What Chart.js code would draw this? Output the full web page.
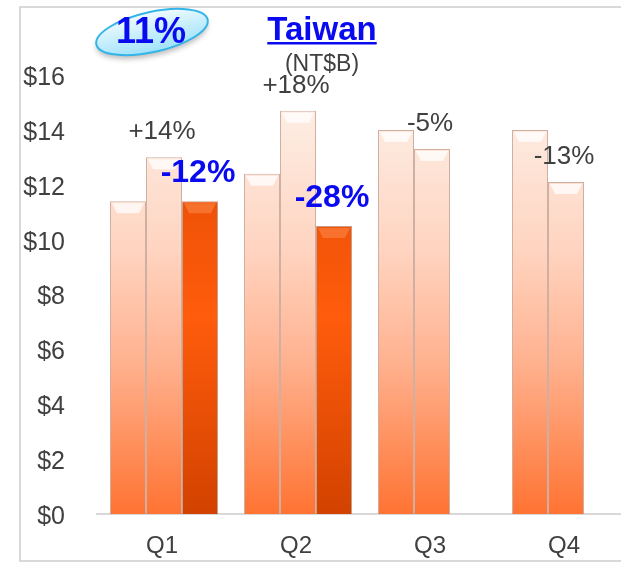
<!DOCTYPE html>
<html>
<head>
<meta charset="utf-8">
<script src="https://cdn.jsdelivr.net/npm/chart.js@4/dist/chart.umd.min.js"></script>
<style>
  html, body { margin: 0; padding: 0; background: #ffffff; overflow: hidden; }
  #wrap { width: 640px; height: 563px; }
</style>
</head>
<body>
<div id="wrap"><canvas id="taiwanChart" width="640" height="563"></canvas></div>
<script>
// ---- data ----
const quarters = ['Q1', 'Q2', 'Q3', 'Q4'];
const salesFirst = [11.4, 12.4, 14.0, 14.0];
const salesSecond = [13.0, 14.7, 13.3, 12.1];
const salesThird = [11.4, 10.5, null, null];
const changeSecond = ['+14%', '+18%', '-5%', '-13%'];
const changeThird = ['-12%', '-28%', '', ''];
const yTickValues = [0, 2, 4, 6, 8, 10, 12, 14, 16];
const badgeText = '11%';
const titleText = 'Taiwan';
const unitText = '(NT$B)';

const FONT = '"Liberation Sans", Arial, sans-serif';
const GRAY_TEXT = '#404040';
const BLUE = '#0a0af0';

// vertical gradients across the plot area
function lightFill(ctx) {
  const area = ctx.chart.chartArea;
  if (!area) return '#ffb28e';
  const g = ctx.chart.ctx.createLinearGradient(0, area.bottom, 0, area.top);
  g.addColorStop(0, '#ff7332');
  g.addColorStop(0.35, '#ffb290');
  g.addColorStop(0.6, '#ffd4c0');
  g.addColorStop(0.8, '#fde4d7');
  g.addColorStop(1, '#fff3ec');
  return g;
}

function darkFill(ctx) {
  const area = ctx.chart.chartArea;
  if (!area) return '#ff5c0c';
  const g = ctx.chart.ctx.createLinearGradient(0, area.bottom, 0, area.top);
  g.addColorStop(0, '#d24200');
  g.addColorStop(0.45, '#ff5c0c');
  g.addColorStop(0.75, '#ec5006');
  g.addColorStop(1, '#e04a00');
  return g;
}

const barEdge = 'rgba(160, 95, 70, 0.5)';
const barBorder = { top: 1, left: 1, right: 1, bottom: 0 };

// frame, title, unit and the 11% badge
const decorPlugin = {
  id: 'decor',
  beforeDraw(chart) {
    const ctx = chart.ctx;
    ctx.save();
    ctx.strokeStyle = '#d9d9d9';
    ctx.lineWidth = 2;
    ctx.strokeRect(20, 7, 700, 554);
    ctx.restore();
  },
  afterDraw(chart) {
    const ctx = chart.ctx;
    ctx.save();
    // title
    ctx.font = 'bold 33px ' + FONT;
    ctx.fillStyle = BLUE;
    ctx.textAlign = 'center';
    ctx.textBaseline = 'alphabetic';
    ctx.fillText(titleText, 322, 40);
    const w = ctx.measureText(titleText).width;
    ctx.fillRect(322 - w / 2, 42, w, 2.5);
    // unit
    ctx.font = '23px ' + FONT;
    ctx.fillStyle = GRAY_TEXT;
    ctx.fillText(unitText, 322, 71);

    // badge ellipse
    ctx.save();
    ctx.translate(152, 32);
    ctx.rotate(-0.22);
    ctx.shadowColor = 'rgba(0,0,0,0.25)';
    ctx.shadowBlur = 5;
    ctx.shadowOffsetY = 4;
    const g = ctx.createLinearGradient(0, -20, 0, 20);
    g.addColorStop(0, '#f0fbff');
    g.addColorStop(1, '#9fe2fa');
    ctx.fillStyle = g;
    ctx.beginPath();
    ctx.ellipse(0, 0, 57, 20, 0, 0, Math.PI * 2);
    ctx.fill();
    ctx.shadowColor = 'transparent';
    ctx.strokeStyle = '#35b4e8';
    ctx.lineWidth = 2;
    ctx.stroke();
    ctx.restore();

    ctx.font = 'bold 36px ' + FONT;
    ctx.fillStyle = BLUE;
    ctx.textAlign = 'center';
    ctx.textBaseline = 'middle';
    ctx.fillText(badgeText, 151, 33);
    ctx.restore();
  }
};

// bevel highlight on bar tops + change labels above bars
const barExtrasPlugin = {
  id: 'barExtras',
  afterDatasetsDraw(chart) {
    const ctx = chart.ctx;
    ctx.save();
    chart.data.datasets.forEach((ds, di) => {
      const meta = chart.getDatasetMeta(di);
      meta.data.forEach((bar, j) => {
        if (ds.data[j] == null) return;
        const p = bar.getProps(['x', 'y', 'width'], true);
        const l = p.x - p.width / 2, r = p.x + p.width / 2;
        ctx.fillStyle = di === 2 ? 'rgba(255,150,90,0.45)' : 'rgba(255,255,255,0.75)';
        ctx.beginPath();
        ctx.moveTo(l + 2, p.y + 2);
        ctx.lineTo(r - 2, p.y + 2);
        ctx.lineTo(r - 7, p.y + 12);
        ctx.lineTo(l + 7, p.y + 12);
        ctx.closePath();
        ctx.fill();
      });
    });

    const labelSets = [
      { index: 1, texts: changeSecond, font: '26px ' + FONT, color: GRAY_TEXT, lift: 25 },
      { index: 2, texts: changeThird, font: 'bold 32px ' + FONT, color: BLUE, lift: 28 }
    ];
    ctx.textAlign = 'center';
    ctx.textBaseline = 'middle';
    labelSets.forEach(set => {
      const meta = chart.getDatasetMeta(set.index);
      meta.data.forEach((bar, j) => {
        if (!set.texts[j]) return;
        ctx.font = set.font;
        ctx.fillStyle = set.color;
        ctx.fillText(set.texts[j], bar.x - 2, bar.y - set.lift);
      });
    });
    ctx.restore();
  }
};

new Chart(document.getElementById('taiwanChart'), {
  type: 'bar',
  data: {
    labels: quarters,
    datasets: [
      { data: salesFirst, backgroundColor: lightFill, borderColor: barEdge, borderWidth: barBorder, borderSkipped: false },
      { data: salesSecond, backgroundColor: lightFill, borderColor: barEdge, borderWidth: barBorder, borderSkipped: false },
      { data: salesThird, backgroundColor: darkFill, borderColor: 'rgba(150, 60, 20, 0.5)', borderWidth: barBorder, borderSkipped: false }
    ]
  },
  options: {
    responsive: false,
    animation: false,
    events: [],
    layout: { padding: { top: 75, right: 7, bottom: 0, left: 0 } },
    datasets: {
      bar: { barPercentage: 1.0, categoryPercentage: 0.806 }
    },
    plugins: {
      legend: { display: false },
      tooltip: { enabled: false },
      title: { display: false }
    },
    scales: {
      x: {
        offset: true,
        grid: { display: false, drawTicks: false },
        border: { display: true, color: '#d9d9d9', width: 2 },
        ticks: { color: GRAY_TEXT, font: { family: FONT, size: 24 }, padding: 18, labelOffset: -2 },
        afterFit: s => { s.height = 49; }
      },
      y: {
        min: 0,
        max: 16,
        grid: { display: false, drawTicks: false },
        border: { display: false },
        afterBuildTicks: s => { s.ticks = yTickValues.map(v => ({ value: v })); },
        ticks: {
          color: GRAY_TEXT,
          font: { family: FONT, size: 25 },
          padding: 32,
          labelOffset: 3,
          callback: v => '$' + v
        },
        afterFit: s => { s.width = 97; }
      }
    }
  },
  plugins: [decorPlugin, barExtrasPlugin]
});
</script>
</body>
</html>
